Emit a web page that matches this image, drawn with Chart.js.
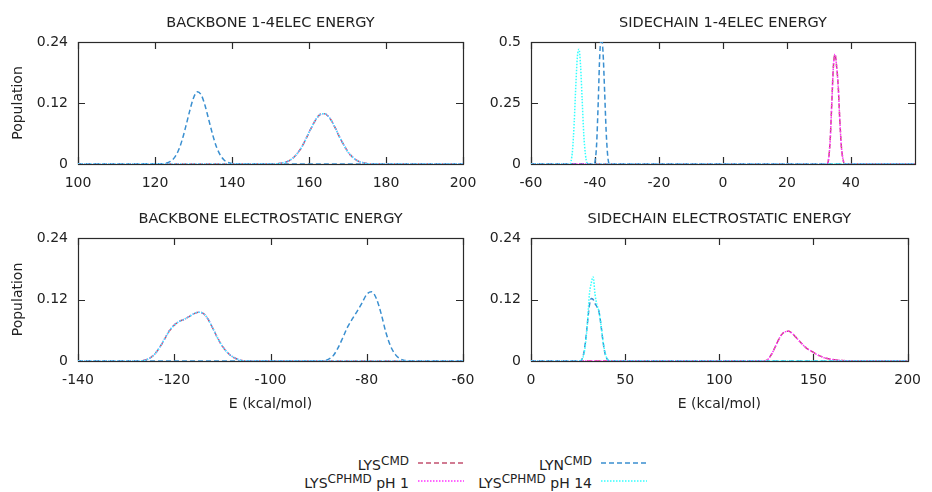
<!DOCTYPE html>
<html>
<head>
<meta charset="utf-8">
<script src="https://cdn.jsdelivr.net/npm/chart.js@4.4.0/dist/chart.umd.min.js"></script>
<style>
  body { margin: 0; background: #fff; }
  #wrap { position: relative; width: 932px; height: 492px; font-family: "DejaVu Sans", sans-serif; color: #222; }
  canvas.panel { position: absolute; }
  .key { position: absolute; font-size: 14px; line-height: 16px; white-space: nowrap; text-align: right; }
  .key span { font-size: 12px; position: relative; top: -5px; }
  svg.sample { position: absolute; }
</style>
</head>
<body>
<div id="wrap">
  <canvas id="p1" class="panel"></canvas>
  <canvas id="p2" class="panel"></canvas>
  <canvas id="p3" class="panel"></canvas>
  <canvas id="p4" class="panel"></canvas>

  <div class="key" style="right:523px; top:457px;">LYS<span>CMD</span></div>
  <svg class="sample" style="left:418px; top:458px;" width="46" height="10"><line x1="0" y1="5" x2="46" y2="5" stroke="#c2506f" stroke-width="1.6" stroke-dasharray="5,3"/></svg>
  <div class="key" style="right:340px; top:457px;">LYN<span>CMD</span></div>
  <svg class="sample" style="left:601px; top:458px;" width="46" height="10"><line x1="0" y1="5" x2="46" y2="5" stroke="#3a8fd0" stroke-width="1.6" stroke-dasharray="5,3"/></svg>
  <div class="key" style="right:523px; top:475px;">LYS<span>CPHMD</span> pH 1</div>
  <svg class="sample" style="left:418px; top:476px;" width="46" height="10"><line x1="0" y1="5" x2="46" y2="5" stroke="#ff33ff" stroke-width="1.6" stroke-dasharray="1.5,1.5"/></svg>
  <div class="key" style="right:340px; top:475px;">LYS<span>CPHMD</span> pH 14</div>
  <svg class="sample" style="left:601px; top:476px;" width="46" height="10"><line x1="0" y1="5" x2="46" y2="5" stroke="#33ffff" stroke-width="1.6" stroke-dasharray="1.5,1.5"/></svg>
</div>

<script>
// tick labels
var bb14Ticks = [100, 120, 140, 160, 180, 200];
var sc14Ticks = [-60, -40, -20, 0, 20, 40];
var bbElTicks = [-140, -120, -100, -80, -60];
var scElTicks = [0, 50, 100, 150, 200];
var popTicks = [0, 0.12, 0.24];
var sc14PopTicks = [0, 0.25, 0.5];

// backbone 1-4 electrostatic energy
var bb14LynX = [100, 122, 123, 124, 125, 126, 127, 128, 129, 130, 131, 132, 133, 134, 135, 136, 137, 138, 139, 140, 141, 200];
var bb14LynY = [0, 0.0006, 0.002, 0.005, 0.012, 0.025, 0.046, 0.074, 0.104, 0.130, 0.142, 0.136, 0.115, 0.086, 0.057, 0.033, 0.017, 0.0074, 0.003, 0.001, 0, 0];
var bb14LysX = [100, 151, 152, 153, 154, 155, 156, 157, 158, 159, 160, 161, 162, 163, 164, 165, 166, 167, 168, 169, 170, 171, 172, 173, 174, 175, 176, 200];
var bb14LysY = [0, 0, 0.0009, 0.0019, 0.0038, 0.0073, 0.0128, 0.021, 0.032, 0.046, 0.062, 0.077, 0.090, 0.098, 0.099, 0.094, 0.083, 0.068, 0.052, 0.038, 0.025, 0.016, 0.009, 0.005, 0.0025, 0.0012, 0, 0];

// sidechain 1-4 electrostatic energy
var sc14LynX = [-60, -40.5, -40, -39.5, -39, -38.5, -38, -37.5, -37, -36.5, -36, -35.5, 60];
var sc14LynY = [0, 0, 0.01, 0.08, 0.25, 0.45, 0.52, 0.46, 0.30, 0.13, 0.03, 0, 0];
var sc14Ph14X = [-60, -48, -47.5, -47, -46.5, -46, -45.5, -45, -44.5, -44, -43.5, -43, -42.5, -42, 60];
var sc14Ph14Y = [0, 0, 0.01, 0.06, 0.17, 0.32, 0.44, 0.47, 0.40, 0.26, 0.12, 0.04, 0.005, 0, 0];
var sc14LysX = [-60, 32.5, 33, 33.5, 34, 34.5, 35, 35.5, 36, 36.5, 37, 37.5, 38, 60];
var sc14LysY = [0, 0, 0.02, 0.10, 0.25, 0.40, 0.45, 0.40, 0.32, 0.18, 0.07, 0.02, 0, 0];

// backbone electrostatic energy
var bbElLysX = [-140, -127, -126, -125, -124, -123, -122, -121, -120, -119, -118, -117, -116, -115, -114, -113, -112, -111, -110, -109, -108, -107, -106, -105, -60];
var bbElLysY = [0, 0, 0.002, 0.006, 0.014, 0.027, 0.043, 0.059, 0.070, 0.077, 0.081, 0.086, 0.092, 0.095, 0.093, 0.082, 0.064, 0.045, 0.029, 0.017, 0.009, 0.004, 0.001, 0, 0];
var bbElLynX = [-140, -89, -88, -87, -86, -85, -84, -83, -82, -81, -80, -79, -78, -77, -76, -75, -74, -73, -72, -71, -60];
var bbElLynY = [0, 0, 0.003, 0.010, 0.025, 0.045, 0.066, 0.082, 0.097, 0.113, 0.130, 0.135, 0.122, 0.092, 0.055, 0.028, 0.012, 0.004, 0.001, 0, 0];

// sidechain electrostatic energy
var scElLynX = [0, 26, 27, 28, 29, 30, 31, 32, 33, 34, 35, 36, 37, 38, 39, 40, 41, 42, 200];
var scElLynY = [0, 0, 0.003, 0.015, 0.04, 0.075, 0.108, 0.122, 0.120, 0.112, 0.106, 0.098, 0.075, 0.045, 0.02, 0.007, 0.001, 0, 0];
var scElPh14X = [0, 26, 27, 28, 29, 30, 31, 32, 33, 34, 35, 36, 37, 38, 39, 40, 41, 42, 200];
var scElPh14Y = [0, 0, 0.002, 0.012, 0.035, 0.075, 0.13, 0.152, 0.164, 0.130, 0.110, 0.098, 0.075, 0.045, 0.022, 0.008, 0.002, 0, 0];
var scElLysX = [0, 124, 125, 126, 127, 128, 129, 130, 131, 132, 133, 134, 135, 136, 137, 138, 139, 140, 141, 142, 143, 144, 145, 146, 147, 148, 149, 150, 152, 154, 156, 158, 160, 162, 165, 168, 171, 200];
var scElLysY = [0, 0, 0.001, 0.004, 0.009, 0.015, 0.022, 0.030, 0.038, 0.045, 0.051, 0.055, 0.057, 0.058, 0.058, 0.056, 0.053, 0.049, 0.045, 0.041, 0.037, 0.033, 0.029, 0.026, 0.023, 0.021, 0.019, 0.017, 0.012, 0.009, 0.006, 0.0045, 0.003, 0.002, 0.001, 0.0005, 0, 0];

Chart.defaults.font.family = '"DejaVu Sans", sans-serif';
Chart.defaults.font.size = 14;
Chart.defaults.color = '#222';

function pts(xs, ys) {
    return xs.map(function(x, i) { return { x: x, y: ys[i] }; });
}

// line styles, in gnuplot plot order (cyan ends up on top)
var styles = {
    lysCmd:  { color: '#c2506f', dash: [5, 3], order: 3 },
    lynCmd:  { color: '#3a8fd0', dash: [5, 3], order: 2 },
    lysPh1:  { color: '#ff33ff', dash: [1.5, 1.5], order: 1 },
    lysPh14: { color: '#33ffff', dash: [1.5, 1.5], order: 0 }
};

function series(key, data) {
    var s = styles[key];
    return {
        data: data,
        borderColor: s.color,
        borderDash: s.dash,
        borderWidth: 1.5,
        pointRadius: 0,
        fill: false,
        cubicInterpolationMode: 'monotone',
        order: s.order
    };
}

// box with inward, mirrored tics
var framePlugin = {
    id: 'frame',
    beforeDatasetsDraw: function(chart) {
        var ctx = chart.ctx, a = chart.chartArea;
        var xs = chart.scales.x, ys = chart.scales.y;
        ctx.save();
        ctx.strokeStyle = '#2a2a2a';
        ctx.lineWidth = 1.2;
        ctx.strokeRect(Math.round(a.left) + 0.5, Math.round(a.top) + 0.5, Math.round(a.right - a.left), Math.round(a.bottom - a.top));
        ctx.beginPath();
        xs.ticks.forEach(function(t) {
            var px = Math.round(xs.getPixelForValue(t.value)) + 0.5;
            ctx.moveTo(px, a.bottom); ctx.lineTo(px, a.bottom - 7);
            ctx.moveTo(px, a.top); ctx.lineTo(px, a.top + 7);
        });
        ys.ticks.forEach(function(t) {
            var py = Math.round(ys.getPixelForValue(t.value)) + 0.5;
            ctx.moveTo(a.left, py); ctx.lineTo(a.left + 7, py);
            ctx.moveTo(a.right, py); ctx.lineTo(a.right - 7, py);
        });
        ctx.stroke();
        ctx.restore();
    }
};

var titlePlugin = {
    id: 'panelTitle',
    afterDraw: function(chart, args, opts) {
        var ctx = chart.ctx, a = chart.chartArea;
        ctx.save();
        ctx.fillStyle = '#222';
        ctx.font = '14.5px "DejaVu Sans", sans-serif';
        ctx.textAlign = 'center';
        ctx.textBaseline = 'middle';
        ctx.fillText(opts.text, (a.left + a.right) / 2, a.top - 19);
        ctx.restore();
    }
};

function makePanel(p) {
    var cv = document.getElementById(p.id);
    cv.width = p.w;
    cv.height = p.h;
    cv.style.left = p.left + 'px';
    cv.style.top = p.top + 'px';
    var a = p.area;

    return new Chart(cv.getContext('2d'), {
        type: 'line',
        data: { datasets: p.datasets },
        options: {
            responsive: false,
            animation: false,
            layout: { padding: { left: 0, top: a.t, right: p.w - a.r, bottom: 0 } },
            plugins: {
                legend: { display: false },
                tooltip: { enabled: false },
                panelTitle: { text: p.title }
            },
            scales: {
                x: {
                    type: 'linear',
                    min: p.xMin,
                    max: p.xMax,
                    grid: { display: false, drawTicks: false },
                    border: { display: false },
                    afterBuildTicks: function(s) { s.ticks = p.xTicks.map(function(v) { return { value: v }; }); },
                    afterFit: function(s) { s.height = p.h - a.b; },
                    ticks: { padding: 11, maxRotation: 0, autoSkip: false, callback: function(v) { return String(v); } },
                    title: { display: p.xTitle, text: 'E (kcal/mol)', padding: { top: 0, bottom: 7 } }
                },
                y: {
                    type: 'linear',
                    min: 0,
                    max: p.yMax,
                    grid: { display: false, drawTicks: false },
                    border: { display: false },
                    afterBuildTicks: function(s) { s.ticks = p.yTicks.map(function(v) { return { value: v }; }); },
                    afterFit: function(s) { s.width = a.l; },
                    ticks: { padding: 10, callback: function(v) { return String(v); } },
                    title: { display: p.yTitle, text: 'Population', padding: { top: 10, bottom: 0 } }
                }
            }
        },
        plugins: [framePlugin, titlePlugin]
    });
}

makePanel({
    id: 'p1', left: 0, top: 0, w: 490, h: 200, area: { l: 78, t: 42, r: 463, b: 164 },
    title: 'BACKBONE 1-4ELEC ENERGY', xMin: 100, xMax: 200, xTicks: bb14Ticks,
    yMax: 0.24, yTicks: popTicks, xTitle: false, yTitle: true,
    datasets: [
        series('lysCmd', pts(bb14LysX, bb14LysY)),
        series('lynCmd', pts(bb14LynX, bb14LynY)),
        series('lysPh1', pts(bb14LysX, bb14LysY)),
        series('lysPh14', pts(bb14LysX, bb14LysY))
    ]
});

makePanel({
    id: 'p2', left: 470, top: 0, w: 462, h: 200, area: { l: 61, t: 42, r: 445, b: 164 },
    title: 'SIDECHAIN 1-4ELEC ENERGY', xMin: -60, xMax: 60, xTicks: sc14Ticks,
    yMax: 0.5, yTicks: sc14PopTicks, xTitle: false, yTitle: false,
    datasets: [
        series('lysCmd', pts(sc14LysX, sc14LysY)),
        series('lynCmd', pts(sc14LynX, sc14LynY)),
        series('lysPh1', pts(sc14LysX, sc14LysY)),
        series('lysPh14', pts(sc14Ph14X, sc14Ph14Y))
    ]
});

makePanel({
    id: 'p3', left: 0, top: 200, w: 490, h: 220, area: { l: 78, t: 38, r: 463, b: 161 },
    title: 'BACKBONE ELECTROSTATIC ENERGY', xMin: -140, xMax: -60, xTicks: bbElTicks,
    yMax: 0.24, yTicks: popTicks, xTitle: true, yTitle: true,
    datasets: [
        series('lysCmd', pts(bbElLysX, bbElLysY)),
        series('lynCmd', pts(bbElLynX, bbElLynY)),
        series('lysPh1', pts(bbElLysX, bbElLysY)),
        series('lysPh14', pts(bbElLysX, bbElLysY))
    ]
});

makePanel({
    id: 'p4', left: 470, top: 200, w: 462, h: 220, area: { l: 61, t: 38, r: 445, b: 161 },
    title: 'SIDECHAIN ELECTROSTATIC ENERGY', xMin: 0, xMax: 200, xTicks: scElTicks,
    yMax: 0.24, yTicks: popTicks, xTitle: true, yTitle: false,
    datasets: [
        series('lysCmd', pts(scElLysX, scElLysY)),
        series('lynCmd', pts(scElLynX, scElLynY)),
        series('lysPh1', pts(scElLysX, scElLysY)),
        series('lysPh14', pts(scElPh14X, scElPh14Y))
    ]
});
</script>
</body>
</html>
